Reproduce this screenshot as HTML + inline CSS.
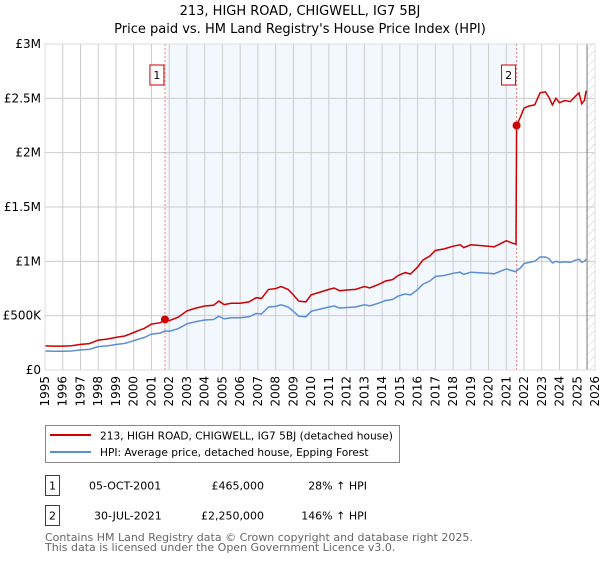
<!DOCTYPE html>
<html><head><meta charset="utf-8"><style>
body{margin:0;background:#fff;font-family:"DejaVu Sans","Liberation Sans",sans-serif;}
svg text{font-family:"DejaVu Sans","Liberation Sans",sans-serif;}
</style></head><body>
<svg id="chart" width="600" height="560" xmlns="http://www.w3.org/2000/svg">
<defs><pattern id="hatch" width="6" height="6" patternUnits="userSpaceOnUse" patternTransform="rotate(45)"><line x1="0" y1="0" x2="0" y2="6" stroke="#ccc" stroke-width="1"/></pattern></defs>
<text x="300" y="15" text-anchor="middle" font-size="13" fill="#000">213, HIGH ROAD, CHIGWELL, IG7 5BJ</text>
<text x="300" y="33" text-anchor="middle" font-size="13" fill="#000">Price paid vs. HM Land Registry's House Price Index (HPI)</text>
<g id="plot"></g>
<g>
<rect x="45.5" y="425.5" width="354" height="37" fill="#fff" stroke="#888"/>
<line x1="50" y1="435" x2="91" y2="435" stroke="#cc0000" stroke-width="2"/>
<text x="100" y="439.5" font-size="10.6">213, HIGH ROAD, CHIGWELL, IG7 5BJ (detached house)</text>
<line x1="50" y1="452" x2="91" y2="452" stroke="#5b8fd4" stroke-width="2"/>
<text x="100" y="456" font-size="10.6">HPI: Average price, detached house, Epping Forest</text>
</g>
<g>
<rect x="45.5" y="475.5" width="14" height="20" fill="#fff" stroke="#cc0000"/>
<text x="52.5" y="489.5" font-size="11" text-anchor="middle">1</text>
<text x="89" y="489.5" font-size="11">05-OCT-2001</text>
<text x="264" y="489.5" font-size="11" text-anchor="end">£465,000</text>
<text x="367" y="489.5" font-size="11" text-anchor="end">28% ↑ HPI</text>
</g>
<g>
<rect x="45.5" y="505.5" width="14" height="20" fill="#fff" stroke="#cc0000"/>
<text x="52.5" y="519.5" font-size="11" text-anchor="middle">2</text>
<text x="94" y="519.5" font-size="11">30-JUL-2021</text>
<text x="264" y="519.5" font-size="11" text-anchor="end">£2,250,000</text>
<text x="367" y="519.5" font-size="11" text-anchor="end">146% ↑ HPI</text>
</g>
<text x="45" y="541" font-size="11" fill="#666">Contains HM Land Registry data © Crown copyright and database right 2025.</text>
<text x="45" y="551" font-size="11" fill="#666">This data is licensed under the Open Government Licence v3.0.</text>
</svg>
<script>
const years=[1995,1995.5,1996,1996.5,1997,1997.5,1998,1998.5,1999,1999.5,2000,2000.3,2000.6,2001,2001.5,2001.76,2002,2002.5,2003,2003.5,2004,2004.5,2004.8,2005.1,2005.5,2006,2006.5,2006.9,2007.2,2007.6,2008,2008.3,2008.7,2009,2009.3,2009.7,2010,2010.5,2011,2011.3,2011.6,2012,2012.5,2013,2013.3,2013.8,2014.2,2014.6,2014.9,2015.3,2015.6,2016,2016.3,2016.7,2017,2017.5,2018,2018.4,2018.6,2019,2019.5,2020,2020.3,2020.7,2021,2021.3,2021.55];
const hpi=[175,172,172,175,185,190,215,222,235,245,270,285,300,330,340,360,355,380,425,445,460,465,495,470,480,480,490,520,515,580,585,600,580,540,495,490,540,560,580,590,570,575,580,600,590,615,640,650,680,700,690,740,790,820,860,870,890,900,880,900,895,890,885,910,930,915,905];
const propertyValues=[222,220,220,224,236,243,275,284,300,313,345,365,384,422,435,460,454,486,544,570,589,595,634,602,614,614,627,665,659,742,749,768,742,691,634,627,691,717,742,755,730,736,742,768,755,787,819,832,870,896,883,947,1011,1050,1100,1114,1139,1152,1126,1152,1146,1139,1133,1165,1190,1171,1158];
const years2=[2021.58,2021.8,2022,2022.3,2022.6,2022.9,2023.2,2023.4,2023.6,2023.8,2024,2024.3,2024.6,2024.9,2025.1,2025.25,2025.4,2025.5];
const propertyValues2=[2250,2330,2410,2430,2440,2550,2560,2510,2440,2500,2460,2480,2470,2520,2550,2450,2480,2570];
const hpi2=[915,940,980,990,1000,1040,1040,1025,985,1000,990,995,990,1010,1020,990,1000,1020];
const sales=[{year:2001.76,price:465,label:"1"},{year:2021.58,price:2250,label:"2"}];
const yTicks=[0,500,1000,1500,2000,2500,3000];
const yLabels=["£0","£500K","£1M","£1.5M","£2M","£2.5M","£3M"];
const xTicks=[1995,1996,1997,1998,1999,2000,2001,2002,2003,2004,2005,2006,2007,2008,2009,2010,2011,2012,2013,2014,2015,2016,2017,2018,2019,2020,2021,2022,2023,2024,2025,2026];

const L=45,R=595,T=44,B=370,NS="http://www.w3.org/2000/svg";
const x=v=>L+(v-1995)/(2026-1995)*(R-L);
const y=v=>B-v/3000*(B-T);
const g=document.getElementById('plot');
function mk(t,a){const e=document.createElementNS(NS,t);for(const k in a)e.setAttribute(k,a[k]);g.appendChild(e);return e;}
let e;
e=mk('rect',{x:x(2001.76),y:T,width:x(2021.58)-x(2001.76),height:B-T,fill:'#eef3fd',opacity:0.7});


e=mk('rect',{x:x(2025.55),y:T,width:R-x(2025.55),height:B-T,fill:'url(#hatch)'});


yTicks.forEach((t,i)=>{
 e=mk('line',{x1:L,x2:R,y1:y(t),y2:y(t),stroke:'#ccc'});
 
 
 e=mk('text',{x:L-4,y:y(t)+4,'text-anchor':'end','font-size':12});e.textContent=yLabels[i];
 
 
});
xTicks.forEach(t=>{
 e=mk('line',{x1:x(t),x2:x(t),y1:T,y2:B,stroke:'#ccc'});
 
 
 e=mk('text',{x:0,y:0,'text-anchor':'end','font-size':12,transform:`translate(${x(t)+4},${B+6}) rotate(-90)`});e.textContent=t;
 
 
});
e=mk('line',{x1:x(2025.55),x2:x(2025.55),y1:T,y2:B,stroke:'#777'});


sales.forEach(s=>{
 e=mk('line',{x1:x(s.year),x2:x(s.year),y1:T,y2:B,stroke:'#f08080','stroke-dasharray':'2,2'});
 
 
 e=mk('rect',{x:x(s.year)-15,y:65,width:14,height:20,fill:'#fff',stroke:'#cc0000'});
 
 
 e=mk('text',{x:x(s.year)-8,y:79,'text-anchor':'middle','font-size':11});e.textContent=s.label;
 
 
});
const pts=(xs,vs)=>xs.map((v,i)=>x(v).toFixed(1)+','+y(vs[i]).toFixed(1)).join(' ');
e=mk('polyline',{points:pts(years.concat(years2),hpi.concat(hpi2)),fill:'none',stroke:'#5b8fd4','stroke-width':1.5});


e=mk('polyline',{points:pts(years.concat(years2),propertyValues.concat(propertyValues2)),fill:'none',stroke:'#cc0000','stroke-width':1.5});


sales.forEach(s=>{
 e=mk('circle',{cx:x(s.year),cy:y(s.price),r:4,fill:'#cc0000'});
 
 
});
e=mk('rect',{x:L,y:T,width:R-L,height:B-T,fill:'none',stroke:'#ddd'});


</script>
</body></html>
